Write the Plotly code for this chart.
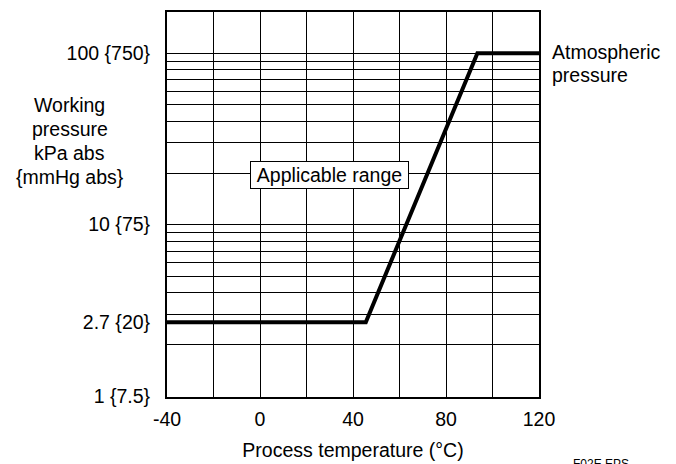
import plotly.graph_objects as go

# Data
temp_c = [-40, 45.5, 93.5, 120]
pressure_kpa = [2.7, 2.7, 100, 100]

x_grid = [-40, -20, 0, 20, 40, 60, 80, 100, 120]
x_ticktext = ["-40", "", "0", "", "40", "", "80", "", "120"]

y_tickvals = [1, 2.7, 10, 100]
y_ticktext = ["1 {7.5}", "2.7 {20}", "10 {75}", "100 {750}"]
y_grid = [1, 2, 3, 4, 5, 6, 7, 8, 9, 10, 20, 30, 40, 50, 60, 70, 80, 90, 100]

y_title_lines = ["Working", "pressure", "kPa abs", "{mmHg abs}"]
right_label_lines = ["Atmospheric", "pressure"]

FONT = "Liberation Sans, Arial, Helvetica, sans-serif"
FS = 19.5

fig = go.Figure()
fig.add_trace(go.Scatter(
    x=temp_c, y=pressure_kpa, mode="lines",
    line=dict(color="black", width=4), showlegend=False, hoverinfo="skip"))

fig.update_layout(
    width=676, height=464,
    margin=dict(l=167, r=137, t=12, b=67, pad=0),
    paper_bgcolor="white", plot_bgcolor="white",
    font=dict(family=FONT, size=FS, color="black"),
    showlegend=False,
)

fig.update_xaxes(
    range=[-40, 120],
    tickvals=x_grid, ticktext=x_ticktext,
    showgrid=True, gridcolor="black", gridwidth=1,
    zeroline=False, ticks="", ticklabelstandoff=4, automargin=False,
    showline=True, linecolor="black", linewidth=2, mirror=True,
    title=dict(text="Process temperature (°C)", standoff=14,
               font=dict(family=FONT, size=FS)),
    tickfont=dict(family=FONT, size=FS),
)

fig.update_yaxes(
    type="log", range=[-0.005, 2.24],
    tickvals=y_tickvals, ticktext=y_ticktext,
    showgrid=False, zeroline=False, ticks="", ticklabelstandoff=11,
    automargin=False,
    showline=True, linecolor="black", linewidth=2, mirror=True,
    tickfont=dict(family=FONT, size=FS),
    minor=dict(tickvals=y_grid, showgrid=True, gridcolor="black",
               gridwidth=1, ticks=""),
)

# left axis title, one annotation per line (tighter line spacing)
H = 384.7  # plot height in px, used to convert line spacing to paper units
for i, line in enumerate(y_title_lines):
    fig.add_annotation(
        xref="paper", yref="paper", x=-0.262,
        y=(396.7 - (105 + 24 * i)) / H,
        text=line, showarrow=False, xanchor="center", yanchor="middle",
        font=dict(family=FONT, size=FS, color="black"))

for i, line in enumerate(right_label_lines):
    fig.add_annotation(
        xref="paper", yref="paper", x=1.03,
        y=(396.7 - (51.7 + 23.5 * i)) / H,
        text=line, showarrow=False, xanchor="left", yanchor="middle",
        font=dict(family=FONT, size=FS, color="black"))

fig.add_annotation(
    xref="paper", yref="paper", x=0.4375, y=0.576,
    text="Applicable range",
    showarrow=False, align="center", xanchor="center", yanchor="middle",
    bgcolor="white", bordercolor="black", borderwidth=1, borderpad=1,
    width=155, height=24,
    font=dict(family=FONT, size=FS, color="black"))

fig.add_annotation(
    xref="paper", yref="paper", x=1.166, y=-0.174,
    text="F02E.EPS",
    showarrow=False, xanchor="center", yanchor="middle",
    font=dict(family=FONT, size=12, color="black"))

fig.write_html("out.html",
               config={"displayModeBar": False, "staticPlot": True},
               post_script="document.body.style.margin='0';"
                           "document.body.style.overflow='hidden';")
